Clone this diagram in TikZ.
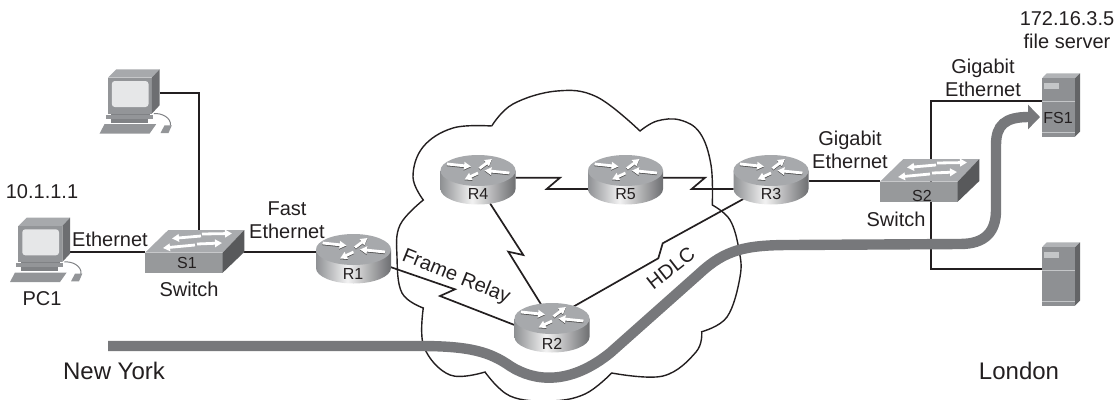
\documentclass[tikz,border=0pt]{standalone}
\usepackage{fontspec}
\setmainfont{Liberation Sans}
\usetikzlibrary{calc,arrows.meta}
\definecolor{ink}{HTML}{231F20}
\definecolor{flow}{HTML}{77787B}
\definecolor{rtop}{HTML}{A7A9AC}
\definecolor{swfront}{HTML}{97999B}
\definecolor{swtop}{HTML}{A9ABAE}
\definecolor{swside}{HTML}{58595B}
\definecolor{srvfront}{HTML}{8E9093}
\definecolor{srvtop}{HTML}{B1B3B6}
\definecolor{srvside}{HTML}{636466}
\definecolor{srvlight}{HTML}{C4C6C8}
\definecolor{pcfront}{HTML}{939598}
\definecolor{pctop}{HTML}{A7A9AC}
\definecolor{pcside}{HTML}{6D6E71}
\definecolor{pcscreen}{HTML}{E6E7E8}
\definecolor{pcdark}{HTML}{808285}
\definecolor{rleft}{HTML}{8F9194}
\definecolor{rmid}{HTML}{F2F2F2}
\definecolor{rright}{HTML}{6D6E71}
\pgfdeclarehorizontalshading{routerside}{100bp}{
  color(0bp)=(rleft); color(25bp)=(rleft); color(46bp)=(rmid);
  color(75bp)=(rright); color(100bp)=(rright)}
\tikzset{
  iconbox/.style={inner sep=0pt,outer sep=0pt,minimum width=#1,minimum height=30pt},
  link/.style={draw=ink,line width=1.7pt,line join=miter},
  cloudline/.style={draw=ink,line width=1.4pt},
  txt/.style={text=ink,font=\fontsize{20}{22.5}\selectfont,inner sep=0pt,align=center},
  bigtxt/.style={text=ink,font=\fontsize{24}{26}\selectfont,inner sep=0pt},
  tag/.style={text=ink,font=\fontsize{16}{18}\selectfont,inner sep=0pt},
  whitearrow/.style={draw=white,line width=2.8pt,-{Triangle[length=7pt,width=7.5pt]}},
  shadearrow/.style={draw=black!70,line width=2.8pt,-{Triangle[length=7pt,width=7.5pt]}},
  flowpath/.style={draw=flow,line width=10.4pt,-{Triangle[length=12pt,width=24pt]}}
}
\newcommand{\rarrow}[2]{%
  \draw[shadearrow,shift={(0pt,-0.8pt)}] #1 -- #2;
  \draw[whitearrow] #1 -- #2;}
\newcommand{\routericon}[2]{%
  \begin{scope}[shift={(#1,#2)}]
    \shade[shading=routerside] (-37.5,0) -- (-37.5,18.5) arc[start angle=180,end angle=360,x radius=37.5pt,y radius=15.5pt] -- (37.5,0) -- cycle;
    \fill[rtop] (0,0) ellipse[x radius=37.5pt,y radius=15.5pt];
    \rarrow{(-31,-6.5)}{(-7,-4)}
    \rarrow{(1.5,-2)}{(14,-11.5)}
    \rarrow{(0,2.5)}{(-13.5,9)}
    \rarrow{(31.5,2.5)}{(6.5,0)}
  \end{scope}}
\newcommand{\switchicon}[2]{%
  \begin{scope}[shift={(#1,#2)}]
    \fill[swtop] (145,252.7) -- (222.7,252.7) -- (244.3,230) -- (168.3,230) -- cycle;
    \fill[swfront] (145,252.7) rectangle (222.7,272.7);
    \fill[swside] (222.7,252.7) -- (244.3,230) -- (244.3,252) -- (222.7,272.7) -- cycle;
    \draw[whitearrow] (201,236) -- (172,238.5);
    \draw[whitearrow] (202,234) -- (232,233.5);
    \draw[whitearrow] (195,245) -- (163,248);
    \draw[whitearrow] (197,244) -- (222,243);
  \end{scope}}
\newcommand{\pcicon}[2]{%
  \begin{scope}[shift={(#1,#2)}]
    \draw[pcdark,line width=1pt] (64.3,262) .. controls (72,261) and (82,266) .. (81,274);
    \fill[pctop] (18.3,226) -- (26.7,217.7) -- (70,217.7) -- (62.3,226) -- cycle;
    \fill[pcfront] (18.3,226) rectangle (62.3,262);
    \fill[pcside] (62.3,226) -- (70,217.7) -- (70,253.7) -- (62.3,262) -- cycle;
    \fill[pcscreen,rounded corners=3pt] (22.3,229.3) rectangle (59,255.3);
    \fill[pcdark] (21,262) rectangle (60,263);
    \fill[pcfront] (16,263) rectangle (63.3,267);
    \fill[pcdark] (21,267) rectangle (58.3,271.3);
    \fill[pcfront] (15,272.5) -- (66.7,272.5) -- (60,282) -- (10,282) -- cycle;
    \fill[pcfront] (75,273.7) -- (82.3,273.7) -- (79,281.3) -- (71,281.3) -- cycle;
  \end{scope}}
\newcommand{\servericon}[1]{%
  \begin{scope}[shift={(0,#1)}]
    \fill[srvtop] (1042,78.3) -- (1046.7,73.3) -- (1080,73.3) -- (1075,78.3) -- cycle;
    \fill[srvfront] (1042,78.3) rectangle (1075,136.7);
    \fill[srvside] (1075,78.3) -- (1080,73.3) -- (1080,131.7) -- (1075,136.7) -- cycle;
    \fill[srvlight] (1044.3,82.7) rectangle (1059.3,88.7);
    \fill[srvlight] (1042,100.5) rectangle (1075,101.3);
    \fill[srvlight] (1042,132.2) rectangle (1075,133);
  \end{scope}}
\begin{document}
\begin{tikzpicture}[x=1pt,y=-1pt]
\useasboundingbox (0,0) rectangle (1118,399);
% cloud
\draw[cloudline,line join=miter]
  plot[smooth,tension=.65] coordinates {(491.7,126) (513,104) (557,91) (597,97) (640,131)}
  -- plot[smooth,tension=.65] coordinates {(640,131) (657,121) (680,120) (700,133) (711,165) (712.3,205)}
  -- plot[smooth,tension=.65] coordinates {(712.3,205) (730,220) (739,250) (740,277) (727,317) (701.7,331.7)}
  -- plot[smooth,tension=.65] coordinates {(701.7,331.7) (696,352) (663,376) (611.7,373)}
  -- plot[smooth,tension=.65] coordinates {(611.7,373) (585,394) (550,401) (510,396) (485,372)}
  -- plot[smooth,tension=.65] coordinates {(485,372) (450,375) (424,347) (423.3,308)}
  -- plot[smooth,tension=.65] coordinates {(423.3,308) (402,293) (397,257) (400,225) (423.3,200)}
  -- plot[smooth,tension=.65] coordinates {(423.3,200) (413,177) (423,147) (453,128) (491.7,126)};
% anchor nodes of the icons
\node[iconbox=52pt] (PC1) at (44,252.3) {};
\node[iconbox=52pt] (PC2) at (133.5,104) {};
\node[iconbox=99.6pt] (S1) at (194.5,252.3) {};
\node[iconbox=99.6pt] (S2) at (929.5,181.3) {};
\node[iconbox=75pt] (R1) at (353.5,252.3) {};
\node[iconbox=75pt] (R2) at (552,321.3) {};
\node[iconbox=75pt] (R3) at (771,173.3) {};
\node[iconbox=75pt] (R4) at (478,173.3) {};
\node[iconbox=75pt] (R5) at (625.5,173.3) {};
\node[iconbox=38pt] (FS1) at (1061,101) {};
\node[iconbox=38pt] (FS2) at (1061,269) {};
% bolt corners
\coordinate (fr1) at (455,289.3);
\coordinate (fr2) at (440,296);
\coordinate (a1) at (560,177.7);
\coordinate (a2) at (546.7,189);
\coordinate (b1) at (705,177.7);
\coordinate (b2) at (691.7,189);
\coordinate (c1) at (523.3,255);
\coordinate (c2) at (508.3,251.7);
\coordinate (d1) at (658.3,258.3);
\coordinate (d2) at (662.7,243.3);
% connectors
\draw[link] (PC1.east) -- (S1.west);
\draw[link] ($(PC2.east)+(0,-11.3)$) -| ($(S1.center)+(4.5,0)$);
\draw[link] (S1.east) -- (R1.west);
\draw[link] ($(R1.center)+(36,14.4)$) -- (fr1) -- (fr2) -- ($(R2.west)+(0,3.7)$);
\draw[link] ($(R4.east)+(0,4.4)$) -- (a1) -- (a2) -- ($(R5.west)+(0,15.7)$);
\draw[link] ($(R5.east)+(0,4.4)$) -- (b1) -- (b2) -- ($(R3.west)+(0,15.7)$);
\draw[link] ($(R4.center)+(12,30)$) -- (c1) -- (c2) -- ($(R2.center)+(-11,-17)$);
\draw[link] ($(R2.center)+(21.3,-14.6)$) -- (d1) -- (d2) -- ($(R3.center)+(-27.7,25.7)$);
\draw[link] (S2.west) -- (R3.east |- S2.west);
\draw[link] ($(S2.center)+(1.5,0)$) |- (FS1.west);
\draw[link] ($(S2.center)+(1.5,0)$) |- (FS2.west);
% icons
\pcicon{0}{0}
\pcicon{89.5}{-148.3}
\switchicon{0}{0}
\switchicon{735}{-71}
\routericon{353.5}{249.5}
\routericon{552}{318.5}
\routericon{771}{170.5}
\routericon{478}{170.5}
\routericon{625.5}{170.5}
\servericon{0}
\servericon{169}
% traffic path
\draw[flowpath] (108,346) -- (420,346) .. controls (470,346) and (490,352) .. (510,366)
  .. controls (535,382) and (570,385) .. (610,353) -- (700,273)
  .. controls (725,250) and (745,245) .. (790,245) -- (960,244)
  .. controls (985,244) and (996,232) .. (996,210) -- (996,145)
  .. controls (996,125) and (1005,117) .. (1040,117);
% labels
\node[tag] (tS1) at (187,263) {S1};
\node[tag] (tS2) at (922,196) {S2};
\node[tag] (tR1) at (353,274) {R1};
\node[tag] (tR2) at (552,344) {R2};
\node[tag] (tR3) at (771,194) {R3};
\node[tag] (tR4) at (478,194) {R4};
\node[tag] (tR5) at (625.5,194) {R5};
\node[tag] (tFS1) at (1058,118) {FS1};
\node[txt] (lip1) at (42,192) {10.1.1.1};
\node[txt] (leth) at (110,239) {Ethernet};
\node[txt] (lpc1) at (42,299) {PC1};
\node[txt] (lsw1) at (189,289) {Switch};
\node[txt] (lfe) at (287,220) {Fast\\Ethernet};
\node[txt] (lfr) at (456,277) [rotate=-22] {Frame Relay};
\node[txt] (lhd) at (670.7,268) [rotate=38] {HDLC};
\node[txt] (lge1) at (850,150) {Gigabit\\Ethernet};
\node[txt] (lge2) at (983,78) {Gigabit\\Ethernet};
\node[txt] (lsw2) at (896,219) {Switch};
\node[txt] (lip2) at (1067,30) {172.16.3.5\\file server};
\node[bigtxt] (lny) at (114,371) {New York};
\node[bigtxt] (llon) at (1019,371) {London};
\end{tikzpicture}
\end{document}
